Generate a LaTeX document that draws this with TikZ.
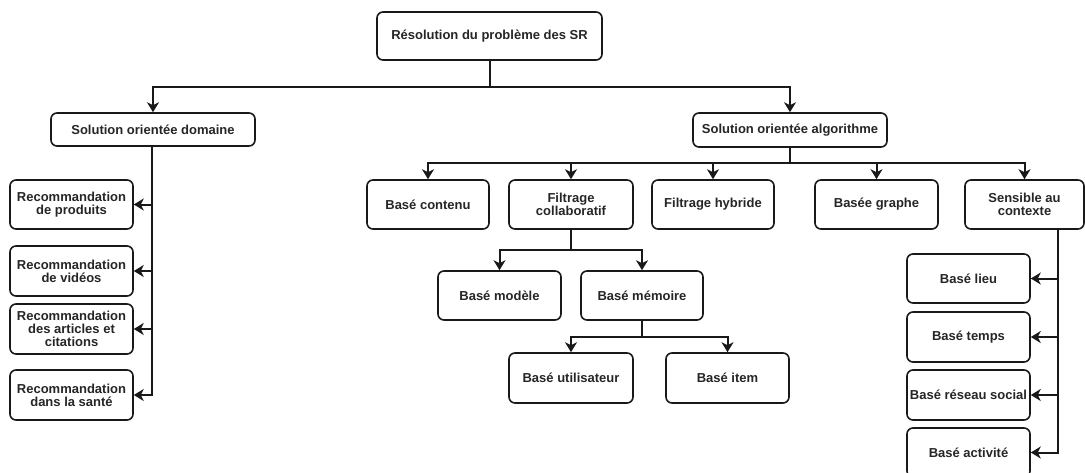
\documentclass[tikz,border=0pt]{standalone}
\usepackage{fontspec}
\setmainfont{Liberation Sans}
\usetikzlibrary{arrows.meta}

\begin{document}
\begin{tikzpicture}[x=1pt,y=-1pt,
  box/.style={draw=black!90, line width=1.6pt, rounded corners=6pt, fill=white,
    align=center, inner sep=0pt, text=black!85,
    font=\fontsize{13}{13.3}\selectfont\bfseries},
  link/.style={line width=2pt, draw=black!90},
  arr/.style={link, -{Stealth[length=10pt,width=12pt,inset=3pt]}}
]
% page frame
\clip (0,0) rectangle (1085,472);
\fill[white] (0,0) rectangle (1085,472);

% root and the two main approaches
\node[box, minimum width=225pt, minimum height=48pt] (root) at (489.5,36) {Résolution du problème des SR};
\node[box, minimum width=204pt, minimum height=33pt] (dom) at (153,129.5) {Solution orientée domaine};
\node[box, minimum width=194pt, minimum height=34pt] (algo) at (790,130) {Solution orientée algorithme};

% domain-oriented branch
\node[box, minimum width=123pt, minimum height=49pt] (rp) at (71.5,204.5) {Recommandation\\de produits};
\node[box, minimum width=123pt, minimum height=50pt] (rv) at (71.5,271) {Recommandation\\de vidéos};
\node[box, minimum width=123pt, minimum height=50pt] (ra) at (71.5,329) {Recommandation\\des articles et\\citations};
\node[box, minimum width=123pt, minimum height=50pt] (rs) at (71.5,395) {Recommandation\\dans la santé};

% algorithm-oriented branch
\node[box, minimum width=122pt, minimum height=49pt] (contenu) at (428,204.5) {Basé contenu};
\node[box, minimum width=124pt, minimum height=49pt] (collab) at (571,204.5) {Filtrage\\collaboratif};
\node[box, minimum width=122pt, minimum height=49pt] (hybride) at (713,204.5) {Filtrage hybride};
\node[box, minimum width=123pt, minimum height=49pt] (graphe) at (876.5,204.5) {Basée graphe};
\node[box, minimum width=119pt, minimum height=49pt] (sensible) at (1024.5,204.5) {Sensible au\\contexte};

% collaborative filtering
\node[box, minimum width=123pt, minimum height=49pt] (modele) at (499.5,295.5) {Basé modèle};
\node[box, minimum width=122pt, minimum height=49pt] (memoire) at (642,295.5) {Basé mémoire};
\node[box, minimum width=124pt, minimum height=50pt] (util) at (571,378) {Basé utilisateur};
\node[box, minimum width=123pt, minimum height=50pt] (item) at (727.5,378) {Basé item};

% context-aware
\node[box, minimum width=123pt, minimum height=49pt] (lieu) at (968.5,278.5) {Basé lieu};
\node[box, minimum width=123pt, minimum height=50pt] (temps) at (968.5,337) {Basé temps};
\node[box, minimum width=123pt, minimum height=50pt] (reseau) at (968.5,395) {Basé réseau social};
\node[box, minimum width=123pt, minimum height=49pt] (activite) at (968.5,452.5) {Basé activité};

% junction points
\coordinate (j0) at (489.5,87);
\coordinate (j1) at (790,163);
\coordinate (j2) at (571,250);
\coordinate (j3) at (642,337);
\coordinate (ds) at (152,146);
\coordinate (ss) at (1058,229);

% connectors
\draw[link] (root.south) -- (j0);
\draw[arr] (j0) -| (dom.north);
\draw[arr] (j0) -| (algo.north);

\draw[arr] (ds) |- (rp.east);
\draw[arr] (ds) |- (rv.east);
\draw[arr] (ds) |- (ra.east);
\draw[arr] (ds) |- (rs.east);

\draw[link] (algo.south) -- (j1);
\draw[arr] (j1) -| (contenu.north);
\draw[arr] (j1) -| (collab.north);
\draw[arr] (j1) -| (hybride.north);
\draw[arr] (j1) -| (graphe.north);
\draw[arr] (j1) -| (sensible.north);

\draw[link] (collab.south) -- (j2);
\draw[arr] (j2) -| (modele.north);
\draw[arr] (j2) -| (memoire.north);

\draw[link] (memoire.south) -- (j3);
\draw[arr] (j3) -| (util.north);
\draw[arr] (j3) -| (item.north);

\draw[arr] (ss) |- (lieu.east);
\draw[arr] (ss) |- (temps.east);
\draw[arr] (ss) |- (reseau.east);
\draw[arr] (ss) |- (activite.east);
\end{tikzpicture}
\end{document}
